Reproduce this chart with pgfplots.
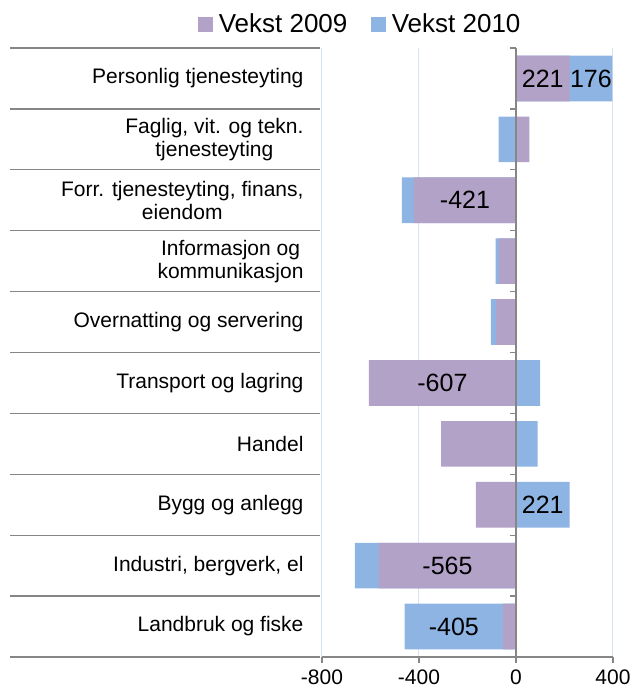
\documentclass[border=0pt]{standalone}
\usepackage{pgfplots}
\pgfplotsset{compat=1.18}
\usepackage{fontspec}
\setmainfont{Liberation Sans}
\definecolor{p09}{RGB}{179,162,199}
\definecolor{b10}{RGB}{142,180,227}
\definecolor{gridblue}{RGB}{217,228,241}
\definecolor{axisgray}{RGB}{134,134,134}
\begin{document}
\begin{tikzpicture}
\useasboundingbox (-322pt,-33pt) rectangle (310pt,657pt);
\begin{axis}[
 at={(0pt,0pt)}, anchor=south west,
 scale only axis, width=291pt, height=609pt, clip=false,
 xmin=-800, xmax=400, ymin=-0.5, ymax=9.5,
 axis x line*=bottom, axis y line*=left,
 x axis line style={draw=axisgray, line width=1.3pt, -},
 y axis line style={draw=none, -},
 xtick={-800,-400,0,400}, xticklabels={-800,-400,0,400},
 xmajorgrids, major grid style={gridblue, line width=1pt},
 tick align=outside, major tick length=6pt,
 x tick style={axisgray, line width=1.3pt},
 ytick={0,1,2,3,4,5,6,7,8,9},
 yticklabels={Landbruk og fiske, {Industri, bergverk, el}, Bygg og anlegg, Handel, Transport og lagring, Overnatting og servering, Informasjon og\\kommunikasjon, {Forr. tjenesteyting, finans,\\eiendom}, {Faglig, vit. og tekn.\\tjenesteyting}, Personlig tjenesteyting},
 y tick style={draw=none},
 yticklabel style={align=center, font=\fontsize{21}{23}\selectfont, xshift=-9pt},
 xticklabel style={font=\fontsize{21}{23}\selectfont, yshift=-3pt},
 legend style={at={(0.132,1.039)}, anchor=center, draw=none, fill=none, legend columns=2,
   font=\fontsize{26}{28}\selectfont, /tikz/every even column/.append style={column sep=22pt},
   inner sep=0pt},
 legend cell align=left,
]
\addplot[xbar, bar width=0.75, bar shift=0pt, fill=b10, draw=none, forget plot]
  coordinates {(-459,0) (-664,1) (221,2) (89,3) (99,4) (-104,5) (-84,6) (-471,7) (-72,8) (397,9)};
\addplot[xbar, bar width=0.75, bar shift=0pt, fill=p09, draw=none, forget plot]
  coordinates {(-54,0) (-565,1) (-165,2) (-309,3) (-607,4) (-82,5) (-72,6) (-421,7) (55,8) (221,9)};
\addplot[draw=none, mark=none, forget plot, nodes near coords, nodes near coords align=center,
  point meta=explicit symbolic,
  every node near coord/.append style={font=\fontsize{25}{28}\selectfont, text=black, anchor=center}]
  coordinates {(110.5,9)[221] (309,9)[176] (-210.5,7)[-421] (-303.5,4)[-607] (110.5,2)[221] (-282.5,1)[-565] (-256.5,0)[-405]};
\draw[axisgray, line width=1.3pt] (axis cs:0,-0.5) -- (axis cs:0,9.5);
\pgfplotsinvokeforeach{-0.5,0.5,1.5,2.5,3.5,4.5,5.5,6.5,7.5,8.5,9.5}{
  \draw[axisgray, line width=1.3pt] (axis cs:0,#1) -- ++(-6pt,0pt);
  \draw[axisgray, line width=1.3pt] (axis cs:-800,#1) ++(-2pt,0pt) -- ++(-310pt,0pt);
}
\addlegendimage{legend image code/.code={\fill[p09] (0pt,-7pt) rectangle (14pt,7pt); \path (18pt,0pt);}}
\addlegendentry{Vekst 2009}
\addlegendimage{legend image code/.code={\fill[b10] (0pt,-7pt) rectangle (14pt,7pt); \path (18pt,0pt);}}
\addlegendentry{Vekst 2010}
\end{axis}
\end{tikzpicture}
\end{document}
